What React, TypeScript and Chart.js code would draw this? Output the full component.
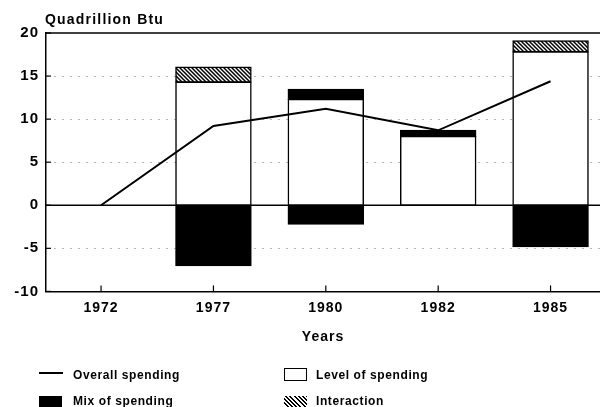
import React, { useEffect, useRef } from 'react';
import { Chart, registerables } from 'chart.js';

Chart.register(...registerables);

// ---- data ----
const years = ['1972', '1977', '1980', '1982', '1985'];
const overallSpending = [0, 9.2, 11.2, 8.7, 14.4];
const levelOfSpending = [null, 14.3, 12.3, 8.0, 17.8];
const mixOfSpendingUp = [null, null, 1.15, 0.7, null];
const mixOfSpendingDown = [null, -7.0, -2.2, null, -4.8];
const interaction = [null, 1.75, null, null, 1.3];
const yTicks = [-10, -5, 0, 5, 10, 15, 20];

const FONT = '"Liberation Sans", Arial, Helvetica, sans-serif';

function toPoints(arr: (number | null)[]) {
  return arr.map((v, i) => ({ x: i, y: v }));
}

function makeHatch(): CanvasPattern | string {
  const s = 4;
  const c = document.createElement('canvas');
  c.width = s;
  c.height = s;
  const g = c.getContext('2d');
  if (!g) return '#888';
  g.fillStyle = '#fff';
  g.fillRect(0, 0, s, s);
  g.strokeStyle = '#000';
  g.lineWidth = 1.5;
  g.beginPath();
  g.moveTo(-1, -1);
  g.lineTo(s + 1, s + 1);
  g.moveTo(s - 1, -1);
  g.lineTo(s + 1, 1);
  g.moveTo(-1, s - 1);
  g.lineTo(1, s + 1);
  g.stroke();
  const p = g.createPattern(c, 'repeat');
  return p || '#888';
}

const framePlugin = {
  id: 'framePlugin',
  beforeDraw(chart: any) {
    chart.ctx.letterSpacing = '1px';
  },
  beforeDatasetsDraw(chart: any) {
    const { ctx, chartArea: a, scales } = chart;
    const x = scales.x;
    const y = scales.y;
    ctx.save();
    ctx.letterSpacing = '0px';
    // dotted grid
    ctx.strokeStyle = '#b8b8b8';
    ctx.lineWidth = 1;
    ctx.setLineDash([2, 6]);
    for (const v of yTicks) {
      if (v === 0 || v === 20 || v === -10) continue;
      const py = Math.round(y.getPixelForValue(v)) + 0.5;
      ctx.beginPath();
      ctx.moveTo(a.left, py);
      ctx.lineTo(a.right, py);
      ctx.stroke();
    }
    ctx.setLineDash([]);
    ctx.strokeStyle = '#000';
    ctx.lineWidth = 1.5;
    // zero line and top line
    for (const v of [0, 20]) {
      const py = y.getPixelForValue(v);
      ctx.beginPath();
      ctx.moveTo(a.left, py);
      ctx.lineTo(a.right, py);
      ctx.stroke();
    }
    // inner tick marks
    ctx.lineWidth = 1.2;
    for (const v of yTicks) {
      const py = y.getPixelForValue(v);
      ctx.beginPath();
      ctx.moveTo(a.left, py);
      ctx.lineTo(a.left + 5, py);
      ctx.stroke();
    }
    years.forEach((_, i) => {
      const px = x.getPixelForValue(i);
      ctx.beginPath();
      ctx.moveTo(px, a.bottom);
      ctx.lineTo(px, a.bottom - 6);
      ctx.stroke();
    });
    ctx.restore();
  },
};

export default function App() {
  const ref = useRef<HTMLCanvasElement | null>(null);

  useEffect(() => {
    if (!ref.current) return;
    const hatch = makeHatch();
    const tickFont = { family: FONT, size: 14, weight: 'bold' as const };
    const barCommon = {
      type: 'bar' as const,
      stack: 's',
      borderColor: '#000',
      borderWidth: 1.5,
      borderSkipped: false as const,
      inflateAmount: 0.6,
      barPercentage: 0.67,
      categoryPercentage: 1,
      order: 2,
    };
    const chart = new Chart(ref.current, {
      type: 'bar',
      data: {
        datasets: [
          {
            type: 'line',
            label: 'Overall spending',
            data: toPoints(overallSpending),
            borderColor: '#000',
            borderWidth: 2,
            pointRadius: 0,
            fill: false,
            tension: 0,
            order: 0,
          } as any,
          {
            ...barCommon,
            label: 'Level of spending',
            data: toPoints(levelOfSpending),
            backgroundColor: '#fff',
          },
          {
            ...barCommon,
            label: 'Mix of spending',
            data: toPoints(mixOfSpendingUp),
            backgroundColor: '#000',
          },
          {
            ...barCommon,
            label: 'Interaction',
            data: toPoints(interaction),
            backgroundColor: hatch,
          },
          {
            ...barCommon,
            label: 'Mix of spending (negative)',
            data: toPoints(mixOfSpendingDown),
            backgroundColor: '#000',
          },
        ],
      },
      options: {
        animation: false,
        responsive: false,
        devicePixelRatio: 1,
        layout: { padding: { top: 33, right: 0, bottom: 61, left: 0 } },
        plugins: {
          legend: { display: false },
          tooltip: { enabled: false },
          title: { display: false },
        },
        scales: {
          x: {
            type: 'linear',
            min: -0.49,
            max: 4.44,
            offset: false,
            stacked: true,
            grid: { display: false, drawTicks: false },
            border: { display: true, color: '#000', width: 1.5 },
            afterBuildTicks: (s: any) => {
              s.ticks = years.map((_, i) => ({ value: i }));
            },
            ticks: {
              callback: (v: any) => years[v as number] ?? '',
              padding: 8,
              color: '#000',
              font: tickFont,
              autoSkip: false,
              maxRotation: 0,
            },
            title: {
              display: true,
              text: 'Years',
              color: '#000',
              font: tickFont,
              padding: { top: 5, bottom: 0 },
            },
          },
          y: {
            min: -10,
            max: 20,
            stacked: true,
            grid: { display: false, drawTicks: false },
            border: { display: true, color: '#000', width: 1.5 },
            afterBuildTicks: (s: any) => {
              s.ticks = yTicks.map((v) => ({ value: v }));
            },
            afterFit: (s: any) => {
              s.width = 46;
            },
            ticks: {
              padding: 7,
              color: '#000',
              font: { family: FONT, size: 15, weight: 'bold' as const },
            },
          },
        },
      },
      plugins: [framePlugin],
    } as any);
    return () => chart.destroy();
  }, []);

  const textStyle: React.CSSProperties = {
    position: 'absolute',
    fontFamily: FONT,
    fontWeight: 'bold',
    fontSize: 12,
    lineHeight: '14px',
    letterSpacing: '0.6px',
    color: '#000',
    whiteSpace: 'nowrap',
  };

  return (
    <div
      style={{
        position: 'fixed',
        left: 0,
        top: 0,
        width: 600,
        height: 407,
        overflow: 'hidden',
        background: '#fff',
      }}
    >
      <canvas ref={ref} width={600} height={407} style={{ display: 'block' }} />
      <div
        style={{
          position: 'absolute',
          left: 45,
          top: 11,
          fontFamily: FONT,
          fontWeight: 'bold',
          fontSize: 14,
          lineHeight: '16px',
          letterSpacing: '1.2px',
          whiteSpace: 'nowrap',
        }}
      >
        Quadrillion Btu
      </div>
      {/* legend */}
      <div style={{ position: 'absolute', left: 39, top: 372, width: 24, height: 2, background: '#000' }} />
      <div style={{ ...textStyle, left: 73, top: 368 }}>Overall spending</div>
      <div style={{ position: 'absolute', left: 39, top: 396, width: 23, height: 12, background: '#000' }} />
      <div style={{ ...textStyle, left: 73, top: 394 }}>Mix of spending</div>
      <div
        style={{
          position: 'absolute',
          left: 284,
          top: 368,
          width: 21,
          height: 11,
          border: '1px solid #000',
          background: '#fff',
        }}
      />
      <div style={{ ...textStyle, left: 316, top: 368 }}>Level of spending</div>
      <div
        style={{
          position: 'absolute',
          left: 284,
          top: 396,
          width: 23,
          height: 12,
          background:
            'repeating-linear-gradient(45deg, #000 0px, #000 1.4px, #fff 1.4px, #fff 3px)',
        }}
      />
      <div style={{ ...textStyle, left: 316, top: 394 }}>Interaction</div>
    </div>
  );
}
